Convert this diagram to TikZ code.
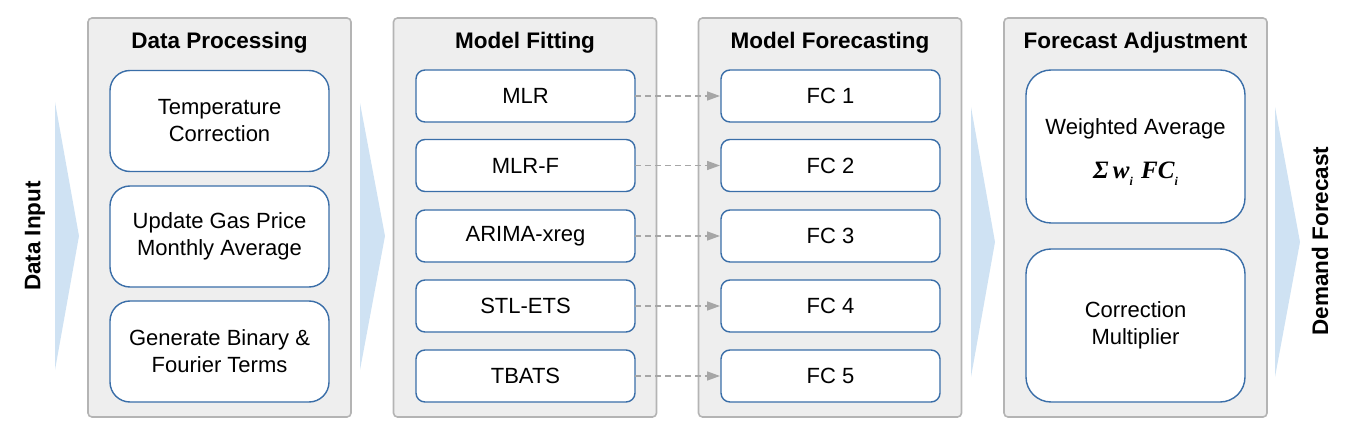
\documentclass[tikz,border=0pt]{standalone}
\usepackage{fontspec}
\setmainfont{Liberation Sans}
\newfontfamily\serifbi{Liberation Serif}[BoldItalicFont=* Bold Italic]
\usetikzlibrary{arrows.meta}
\definecolor{panelfill}{HTML}{EEEEEE}
\definecolor{panelborder}{HTML}{B4B4B4}
\definecolor{boxborder}{HTML}{3A6EA8}
\definecolor{chev}{HTML}{CFE2F3}
\definecolor{conngray}{HTML}{A6A6A6}
\tikzset{
  panel/.style={draw=panelborder, fill=panelfill, line width=1.6pt, rounded corners=4pt,
    minimum width=263pt, minimum height=399pt, inner sep=0pt, outer sep=0pt},
  ptitle/.style={font=\fontsize{22.5}{27}\selectfont\bfseries, inner sep=0pt, anchor=center},
  bigbox/.style={draw=boxborder, fill=white, line width=1.4pt, rounded corners=20pt,
    minimum width=219pt, minimum height=101pt, inner sep=0pt, outer sep=0pt,
    align=center, font=\fontsize{22}{27}\selectfont},
  modbox/.style={draw=boxborder, fill=white, line width=1.4pt, rounded corners=9pt,
    minimum width=219pt, minimum height=52pt, inner sep=0pt, outer sep=0pt,
    align=center, font=\fontsize{22}{27}\selectfont},
  adjbox/.style={draw=boxborder, fill=white, line width=1.4pt, rounded corners=25pt,
    minimum width=219pt, minimum height=153pt, inner sep=0pt, outer sep=0pt,
    align=center, font=\fontsize{22}{27}\selectfont},
  intext/.style={inner sep=0pt, font=\fontsize{22}{27}\selectfont},
  sidelabel/.style={font=\fontsize{22.5}{27}\selectfont\bfseries, rotate=90, inner sep=0pt},
  conn/.style={draw=conngray, line width=1.5pt, dash pattern=on 6pt off 4pt,
    -{Triangle[length=13pt,width=9pt,fill=conngray]}, shorten >=1pt},
}
\newcommand\subi{\raisebox{-7pt}{\fontsize{12}{12}\selectfont i}}
\begin{document}
\begin{tikzpicture}[x=1pt,y=-1pt]
\useasboundingbox (0,0) rectangle (1364,430);
% chevrons
\fill[chev] (55,102) -- (79,236) -- (55,370) -- cycle;
\fill[chev] (360,103) -- (385,236) -- (360,370) -- cycle;
\fill[chev] (971,107) -- (995,242) -- (971,377) -- cycle;
\fill[chev] (1275,107) -- (1300,242) -- (1275,377) -- cycle;
% side labels
\node[sidelabel] (din) at (35,236) {Data Input};
\node[sidelabel] (dout) at (1320,241) {Demand Forecast};
% panels
\node[panel] (p1) at (219.5,217.5) {};
\node[panel] (p2) at (525,217.5) {};
\node[panel] (p3) at (830,217.5) {};
\node[panel] (p4) at (1135.5,217.5) {};
\node[ptitle] (t1) at (219.5,42.5) {Data Processing};
\node[ptitle] (t2) at (525,42.5) {Model Fitting};
\node[ptitle] (t3) at (830,42.5) {Model Forecasting};
\node[ptitle] (t4) at (1135.5,42.5) {Forecast Adjustment};
% data processing
\node[bigbox] (dp1) at (219.5,121) {Temperature\\Correction};
\node[bigbox] (dp2) at (219.5,236.5) {Update Gas Price\\Monthly Average};
\node[bigbox] (dp3) at (219.5,351.5) {Generate Binary \&\\Fourier Terms};
% model fitting
\node[modbox] (m1) at (525.5,96) {MLR};
\node[modbox] (m2) at (525.5,165.5) {MLR-F};
\node[modbox] (m3) at (525.5,236) {ARIMA-xreg};
\node[modbox] (m4) at (525.5,306) {STL-ETS};
\node[modbox] (m5) at (525.5,376) {TBATS};
% forecasts
\node[modbox] (f1) at (830.5,96) {FC 1};
\node[modbox] (f2) at (830.5,165.5) {FC 2};
\node[modbox] (f3) at (830.5,236) {FC 3};
\node[modbox] (f4) at (830.5,306) {FC 4};
\node[modbox] (f5) at (830.5,376) {FC 5};
% adjustment
\node[adjbox] (a1) at (1135.5,146.5) {};
\node[intext] (a1t) at (1135.5,129) {Weighted Average};
\node[inner sep=0pt, anchor=base] (a1f) at (1135.5,179) {\fontsize{25}{30}\selectfont\serifbi\bfseries\itshape \char"03A3\,w\subi\,\,FC\subi};
\node[adjbox] (a2) at (1135.5,325.5) {Correction\\Multiplier};
% connectors
\draw[conn] (m1.east) -- (f1.west);
\draw[conn] (m2.east) -- (f2.west);
\draw[conn] (m3.east) -- (f3.west);
\draw[conn] (m4.east) -- (f4.west);
\draw[conn] (m5.east) -- (f5.west);
\end{tikzpicture}
\end{document}
